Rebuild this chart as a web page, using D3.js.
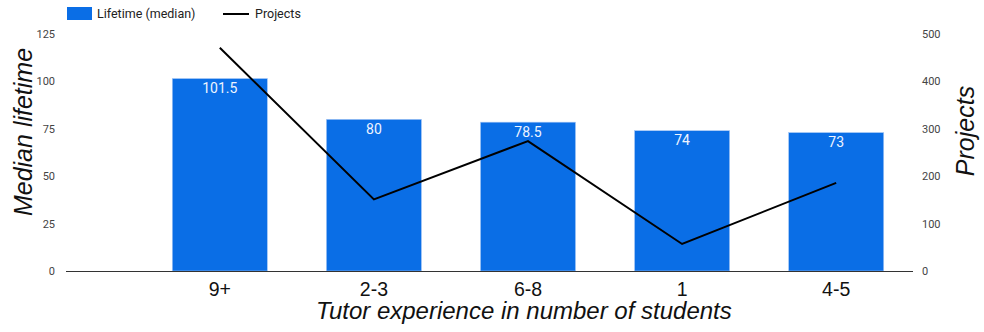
<!DOCTYPE html>
<html>
<head>
  <meta charset="utf-8">
  <title>Tutor experience vs median lifetime</title>
  <script src="https://d3js.org/d3.v7.min.js"></script>
  <style>
    body { margin: 0; overflow: hidden; background: #fff; }
    svg { display: block; }
  </style>
</head>
<body>
  <svg width="984" height="332"></svg>

  <script>
    // data
    const categories = ["9+", "2-3", "6-8", "1", "4-5"];
    const lifetime = [101.5, 80, 78.5, 74, 73];
    const projects = [471, 151, 274, 57, 186];
    const leftTicks = [0, 25, 50, 75, 100, 125];
    const rightTicks = [0, 100, 200, 300, 400, 500];

    const svg = d3.select("svg");

    const plotLeft = 66, plotRight = 913;
    const plotTop = 34, plotBottom = 271;

    // first slot left empty, as in the original
    const x = d3.scaleBand()
      .domain(categories)
      .range([plotLeft + 77, plotRight])
      .paddingInner(0.383)
      .paddingOuter(0.19);

    const yL = d3.scaleLinear().domain([0, 125]).range([plotBottom, plotTop]);
    const yR = d3.scaleLinear().domain([0, 500]).range([plotBottom, plotTop]);

    // left tick labels
    svg.append("g")
      .selectAll("text")
      .data(leftTicks)
      .join("text")
      .attr("x", 55)
      .attr("y", d => yL(d) + 4)
      .attr("text-anchor", "end")
      .attr("font-family", "Roboto, sans-serif")
      .attr("font-size", 11)
      .attr("fill", "#444")
      .text(d => d);

    // right tick labels
    svg.append("g")
      .selectAll("text")
      .data(rightTicks)
      .join("text")
      .attr("x", 922)
      .attr("y", d => yR(d) + 4)
      .attr("text-anchor", "start")
      .attr("font-family", "Roboto, sans-serif")
      .attr("font-size", 11)
      .attr("fill", "#444")
      .text(d => d);

    // bars
    svg.append("g")
      .selectAll("rect")
      .data(lifetime)
      .join("rect")
      .attr("x", (d, i) => x(categories[i]))
      .attr("y", d => yL(d))
      .attr("width", x.bandwidth())
      .attr("height", d => plotBottom - yL(d))
      .attr("fill", "#0a6ee6")
      .attr("stroke", "#a8c8f5")
      .attr("stroke-width", 0.6);

    // bar value labels
    svg.append("g")
      .selectAll("text")
      .data(lifetime)
      .join("text")
      .attr("x", (d, i) => x(categories[i]) + x.bandwidth() / 2)
      .attr("y", d => yL(d) + 14.5)
      .attr("text-anchor", "middle")
      .attr("font-family", "Roboto, sans-serif")
      .attr("font-size", 14)
      .attr("fill", "#eef4ff")
      .text(d => d);

    // baseline
    svg.append("line")
      .attr("x1", plotLeft).attr("x2", plotRight)
      .attr("y1", plotBottom + 0.5).attr("y2", plotBottom + 0.5)
      .attr("stroke", "#333")
      .attr("stroke-width", 1.2);

    // projects line
    const line = d3.line()
      .x((d, i) => x(categories[i]) + x.bandwidth() / 2)
      .y(d => yR(d));

    svg.append("path")
      .datum(projects)
      .attr("d", line)
      .attr("fill", "none")
      .attr("stroke", "#000")
      .attr("stroke-width", 2);

    // category labels
    svg.append("g")
      .selectAll("text")
      .data(categories)
      .join("text")
      .attr("x", d => x(d) + x.bandwidth() / 2)
      .attr("y", 296)
      .attr("text-anchor", "middle")
      .attr("font-family", "Liberation Sans, Arial, sans-serif")
      .attr("font-size", 19.5)
      .attr("fill", "#111")
      .text(d => d);

    // axis titles
    svg.append("text")
      .attr("x", 316).attr("y", 319)
      .attr("text-anchor", "start")
      .attr("font-family", "Liberation Sans, Arial, sans-serif")
      .attr("font-style", "italic")
      .attr("font-size", 24)
      .attr("fill", "#111")
      .text("Tutor experience in number of students");

    svg.append("text")
      .attr("transform", "translate(32,132) rotate(-90)")
      .attr("text-anchor", "middle")
      .attr("font-family", "Liberation Sans, Arial, sans-serif")
      .attr("font-style", "italic")
      .attr("font-size", 25)
      .attr("fill", "#111")
      .text("Median lifetime");

    svg.append("text")
      .attr("transform", "translate(974,131) rotate(-90)")
      .attr("text-anchor", "middle")
      .attr("font-family", "Liberation Sans, Arial, sans-serif")
      .attr("font-style", "italic")
      .attr("font-size", 25)
      .attr("fill", "#111")
      .text("Projects");

    // legend
    const legend = svg.append("g").attr("font-family", "Roboto, sans-serif").attr("font-size", 12.5).attr("fill", "#222");
    legend.append("rect").attr("x", 67).attr("y", 7).attr("width", 25).attr("height", 13).attr("fill", "#0a6ee6");
    legend.append("text").attr("x", 97).attr("y", 18).text("Lifetime (median)");
    legend.append("line").attr("x1", 223).attr("x2", 249).attr("y1", 14).attr("y2", 14).attr("stroke", "#000").attr("stroke-width", 2);
    legend.append("text").attr("x", 255).attr("y", 18).text("Projects");
  </script>
</body>
</html>
